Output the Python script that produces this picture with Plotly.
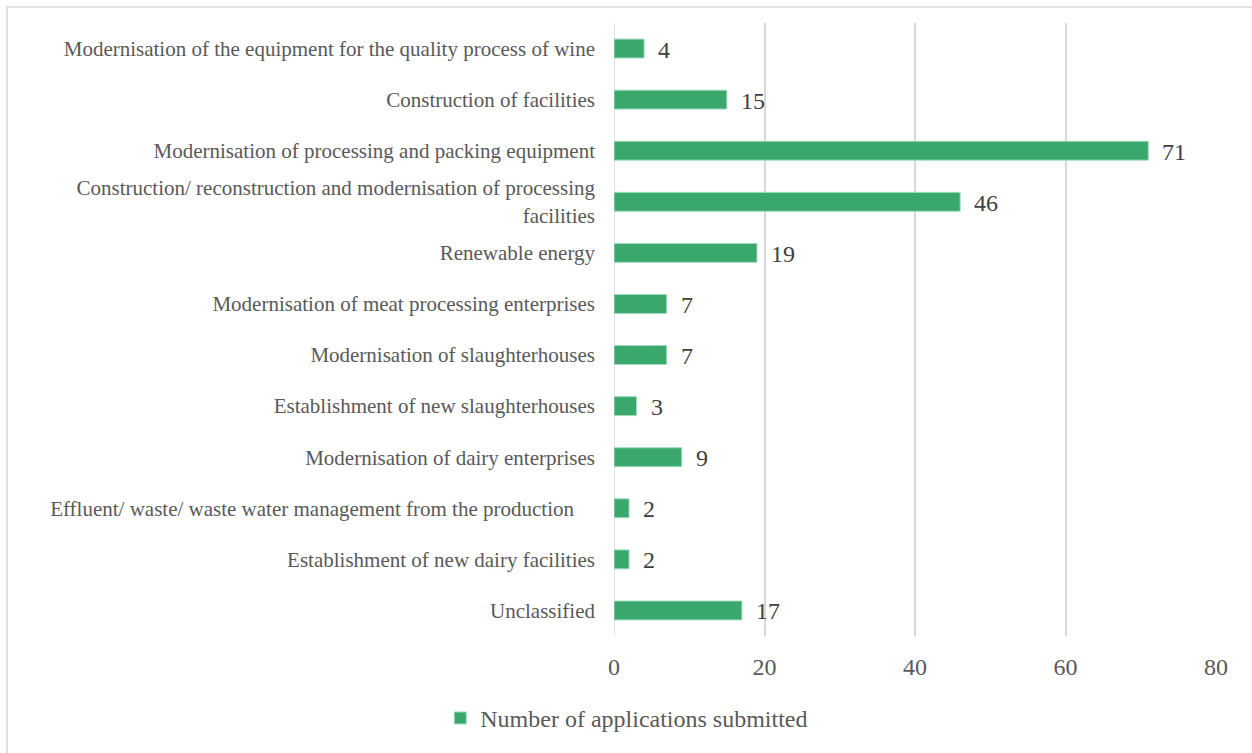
import plotly.graph_objects as go

categories = [
    "Modernisation of the equipment for the quality process of wine",
    "Construction of facilities",
    "Modernisation of processing and packing equipment",
    "Construction/ reconstruction and modernisation of processing<br>facilities",
    "Renewable energy",
    "Modernisation of meat processing enterprises",
    "Modernisation of slaughterhouses",
    "Establishment of new slaughterhouses",
    "Modernisation of dairy enterprises",
    "Effluent/ waste/ waste water management from the production    ",
    "Establishment of new dairy facilities",
    "Unclassified",
]
values = [4, 15, 71, 46, 19, 7, 7, 3, 9, 2, 2, 17]
series_name = "Number of applications submitted"
x_ticks = [0, 20, 40, 60, 80]

FONT = "Liberation Serif, Times New Roman, serif"
GREY = "#595959"
GREEN = "#3AA76D"

fig = go.Figure()
fig.add_trace(go.Bar(
    y=categories, x=values, orientation="h", name=series_name,
    marker=dict(color=GREEN, line=dict(color="#9fdcbf", width=1)),
    width=0.37, showlegend=True,
))

for c, v in zip(categories, values):
    fig.add_annotation(x=v, y=c, text=str(v), showarrow=False,
                       xanchor="left", xshift=12, yshift=-1,
                       font=dict(family=FONT, size=24, color="#404040"))

W, H = 1252, 753
ml, mr, mt, mb = 614, 36, 23, 117
pw, ph = W - ml - mr, H - mt - mb

fig.update_layout(
    width=W, height=H,
    margin=dict(l=ml, r=mr, t=mt, b=mb, pad=0),
    paper_bgcolor="white", plot_bgcolor="white",
    font=dict(family=FONT, size=21, color=GREY),
    xaxis=dict(range=[0, 80], tickvals=x_ticks, showgrid=True,
               gridcolor="#d9d9d9", gridwidth=1.5, zeroline=False,
               showline=False, ticks="", ticklabelstandoff=14,
               tickfont=dict(size=24, color=GREY)),
    yaxis=dict(autorange="reversed", showgrid=False, showline=False,
               ticks="", ticklabelstandoff=18,
               tickfont=dict(size=21, color=GREY)),
    showlegend=True,
    legend=dict(orientation="h", xref="container", yref="container",
                x=0.5006, y=0.046, xanchor="center", yanchor="middle",
                font=dict(size=24, color=GREY), itemwidth=30),
    shapes=[
        dict(type="rect", xref="paper", yref="paper",
             x0=(7 - ml) / pw, x1=(W + 5 - ml) / pw,
             y0=(H - mb - (H + 5)) / ph, y1=(H - mb - 7) / ph,
             line=dict(color="#d9d9d9", width=1.5), layer="below"),
        dict(type="line", xref="x", yref="paper", x0=0, x1=0, y0=0, y1=1,
             line=dict(color="#d9d9d9", width=1.5), layer="below"),
    ],
)

fig.write_html("out.html", config={"displayModeBar": False},
               post_script="document.body.style.margin='0';document.body.style.overflow='hidden';")
